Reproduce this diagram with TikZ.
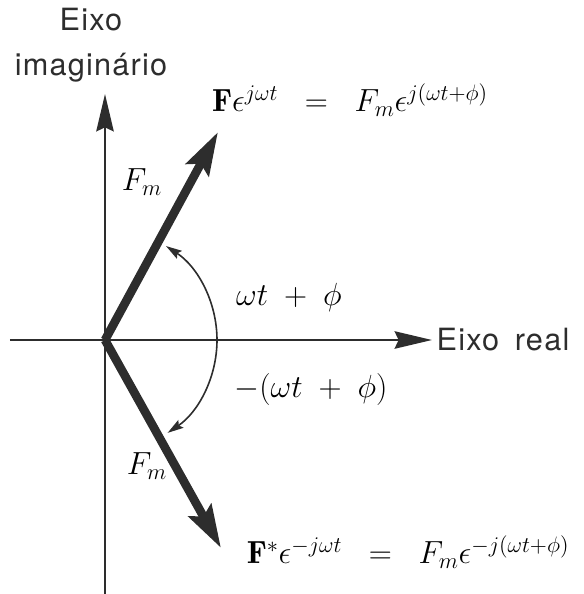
\RequirePackage{fix-cm}
\documentclass[tikz,border=0pt]{standalone}
\usepackage{fontspec}
\setsansfont{TeX Gyre Heros}
\newfontfamily\axisfont[LetterSpace=4,WordSpace=1.6]{TeX Gyre Heros}
\usepackage{amsmath}
\usetikzlibrary{arrows.meta, positioning}
\definecolor{inkgray}{RGB}{45,45,45}

\begin{document}
\begin{tikzpicture}[
  x=0.75pt, y=0.75pt,
  axis/.style={line width=2pt, color=inkgray, -{Stealth[length=28pt,width=13pt,inset=3pt]}},
  phasor/.style={line width=6.5pt, color=inkgray, -{Stealth[length=32pt,width=19pt,inset=5pt]}},
  angarc/.style={line width=1.2pt, color=inkgray, -{Stealth[length=12pt,width=7pt,inset=2pt]}},
  axlabel/.style={font=\axisfont\fontsize{23}{34}\selectfont, text=inkgray, align=center},
  mathlabel/.style={font=\fontsize{24}{28}\selectfont, text=black}
]
  \useasboundingbox (-105,-254) rectangle (479,340);

  % axes
  \coordinate (O) at (0,0);
  \coordinate (xstart) at (-95,0);
  \coordinate (xend) at (327,0);
  \coordinate (ystart) at (0,-254);
  \coordinate (yend) at (0,246);
  \draw[axis] (xstart) -- (xend);
  \draw[axis] (ystart) -- (yend);
  \node[axlabel, right=0pt of xend] (realax) {Eixo real};
  \node[axlabel] (imagax) at (-14,295) {Eixo\\imagin\'ario};

  % phasors
  \coordinate (Ftip) at (113,208);
  \coordinate (Fctip) at (116,-208);
  \draw[phasor] (O) -- (Ftip);
  \draw[phasor] (O) -- (Fctip);

  % angles
  \draw[angarc] (112,0) arc[start angle=0, end angle=57, radius=112];
  \draw[angarc] (112,0) arc[start angle=0, end angle=-56, radius=112];

  % labels
  \node[mathlabel] (fm1) at (37,158) {$F_m$};
  \node[mathlabel] (fm2) at (42,-126) {$F_m$};
  \node[mathlabel] (ang1) at (184,43) {$\omega t\;+\;\phi$};
  \node[mathlabel] (ang2) at (206,-49) {$-(\omega t\;+\;\phi)$};
  \node[mathlabel] (eqtop) at (245,240) {$\mathbf{F}\epsilon^{j\omega t}\;\;=\;\;F_m\epsilon^{j(\omega t+\phi)}$};
  \node[mathlabel] (eqbot) at (303,-212) {$\mathbf{F}^{*}\epsilon^{-j\omega t}\;\;=\;\;F_m\epsilon^{-j(\omega t+\phi)}$};
\end{tikzpicture}
\end{document}
